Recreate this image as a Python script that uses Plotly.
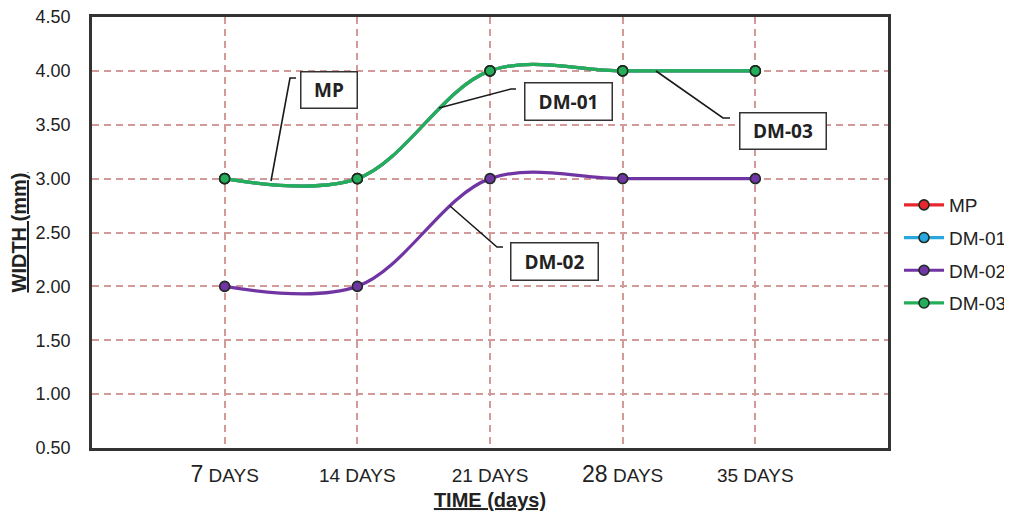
import plotly.graph_objects as go

categories = ["7 DAYS", "14 DAYS", "21 DAYS", "28 DAYS", "35 DAYS"]
tick_text = [
    "<span style='font-size:23px'>7</span> DAYS",
    "14 DAYS",
    "21 DAYS",
    "<span style='font-size:23px'>28</span> DAYS",
    "35 DAYS",
]
series_names = ["MP", "DM-01", "DM-02", "DM-03"]
mp_values = [3.0, 3.0, 4.0, 4.0, 4.0]
dm01_values = [3.0, 3.0, 4.0, 4.0, 4.0]
dm02_values = [2.0, 2.0, 3.0, 3.0, 3.0]
dm03_values = [3.0, 3.0, 4.0, 4.0, 4.0]
colors = ["#e8262d", "#2aa7df", "#7035a2", "#25ae5a"]

# the page adds a small body margin; figure is sized/offset to compensate
OFF = 7
EXTRA = 30  # extra width on the right so the legend is not clipped
W, H = 1012 - OFF + EXTRA, 512 - OFF
L, R, T, B = 91, 887, 16, 447  # plot area in page pixels


def px(x):
    return (x - L) / (R - L)


def py(y):
    return (B - y) / (B - T)


fig = go.Figure()
for name, vals, col in zip(series_names, [mp_values, dm01_values, dm02_values, dm03_values], colors):
    fig.add_trace(go.Scatter(
        x=list(range(len(categories))), y=vals, name=name, legendgroup=name,
        mode="lines+markers",
        line=dict(color=col, width=3.2, shape="spline", smoothing=1.0),
        marker=dict(size=10, color=col, line=dict(color="#1e2a22", width=1.6)),
    ))

grid_col = "#d39a9a"
fig.update_xaxes(
    range=[-1, 5], tickmode="array", tickvals=list(range(len(categories))), ticktext=tick_text,
    showgrid=True, gridcolor=grid_col, griddash="7px,5px", gridwidth=1.5,
    showline=True, linecolor="#333", linewidth=2.5, mirror=True,
    zeroline=False, ticks="", ticklabelstandoff=8, automargin=False,
    ticklabeloverflow="allow",
    tickfont=dict(family="Liberation Sans, Arial", size=19, color="#222"),
    title=dict(text="<b><u>TIME (days)</u></b>", font=dict(family="Liberation Sans, Arial", size=20, color="#222"), standoff=8),
)
fig.update_yaxes(
    range=[0.5, 4.5], dtick=0.5, tickformat=".2f",
    showgrid=True, gridcolor=grid_col, griddash="7px,5px", gridwidth=1.5,
    showline=True, linecolor="#333", linewidth=2.5, mirror=True,
    zeroline=False, ticks="", ticklabelstandoff=15, automargin=False,
    ticklabeloverflow="allow",
    tickfont=dict(family="Liberation Sans, Arial", size=18, color="#222"),
    title=dict(text="<b><u>WIDTH (mm)</u></b>", font=dict(family="Liberation Sans, Arial", size=20, color="#222"), standoff=6),
)

# callout leader lines (page pixel positions converted to paper coordinates)
leaders = [
    [(270, 180), (289, 77), (295, 77)],
    [(438, 107), (510, 88), (515, 88)],
    [(449, 205), (496, 246), (502, 246)],
    [(655, 70), (722, 117), (729, 117)],
]
for pts in leaders:
    path = "M " + " L ".join(f"{px(a):.5f},{py(b):.5f}" for a, b in pts)
    fig.add_shape(type="path", path=path, xref="paper", yref="paper",
                  line=dict(color="#1a1a1a", width=1.6))

boxes = [
    ("MP", 327.5, 89, 59, 39),
    ("DM-01", 567, 100, 90, 40),
    ("DM-02", 553, 260, 90, 40),
    ("DM-03", 781.5, 129.5, 89, 39),
]
for text, cx, cy, w, h in boxes:
    fig.add_annotation(
        x=px(cx), y=py(cy), xref="paper", yref="paper", text=f"<b>{text}</b>",
        showarrow=False, width=w - 4, height=h - 4, bgcolor="white",
        bordercolor="#333", borderwidth=1.5, borderpad=0,
        font=dict(family="Open Sans, Liberation Sans", size=19, color="#222"),
        xanchor="center", yanchor="middle",
    )

fig.update_layout(
    width=W, height=H,
    margin=dict(l=L - OFF, r=W - (R - OFF), t=T - OFF, b=H - (B - OFF), autoexpand=False),
    plot_bgcolor="white", paper_bgcolor="white",
    legend=dict(x=px(898), y=py(185), xanchor="left", yanchor="top",
                font=dict(family="Liberation Sans, Arial", size=19, color="#222"),
                itemwidth=40, tracegroupgap=5, bgcolor="rgba(0,0,0,0)"),
    showlegend=True,
)

fig.write_html("out.html")
